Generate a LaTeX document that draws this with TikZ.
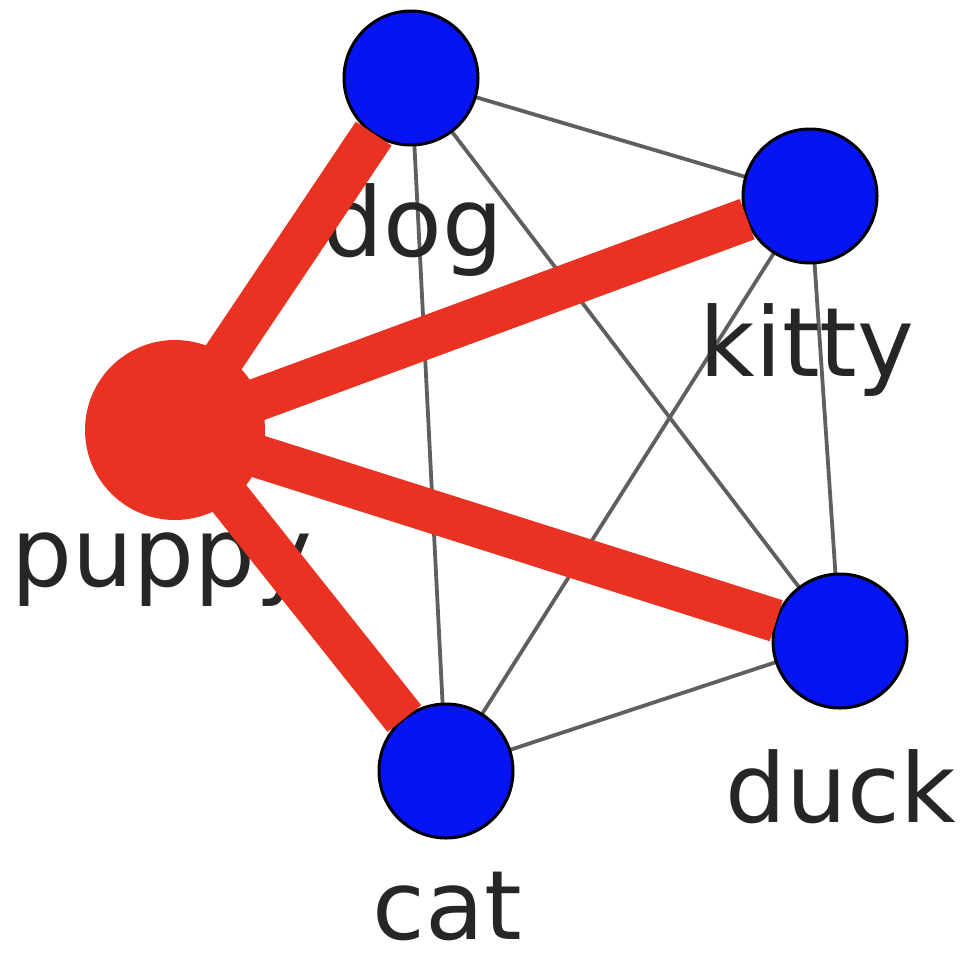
\documentclass[tikz,border=0pt]{standalone}
\usepackage{fontspec}
\setmainfont{DejaVu Sans}
\definecolor{nodeblue}{RGB}{5,20,240}
\definecolor{hubred}{RGB}{234,50,34}
\definecolor{edgegray}{RGB}{95,95,95}
\tikzset{
  x=1pt, y=-1pt,
  animal/.style={circle, fill=nodeblue, draw=black, line width=3pt,
    minimum size=134pt, inner sep=0pt, outer sep=0pt},
  hubnode/.style={circle, fill=hubred, minimum size=180pt, inner sep=0pt, outer sep=0pt},
  thinedge/.style={draw=edgegray, line width=3.8pt},
  heavyedge/.style={draw=hubred, line width=43pt, line cap=butt},
  animallabel/.style={anchor=base, inner sep=0pt, text=black!85,
    font=\fontsize{96}{115}\selectfont}
}
\begin{document}
\begin{tikzpicture}
  \useasboundingbox (0,0) rectangle (965,961);

  % node positions
  \coordinate (pDog)   at (411,78);
  \coordinate (pKitty) at (810,196);
  \coordinate (pDuck)  at (840,641);
  \coordinate (pCat)   at (446,771);
  \coordinate (pPuppy) at (175,430);

  % light edges between the blue animals
  \draw[thinedge] (pDog) -- (pKitty);
  \draw[thinedge] (pDog) -- (pCat);
  \draw[thinedge] (pDog) -- (pDuck);
  \draw[thinedge] (pKitty) -- (pCat);
  \draw[thinedge] (pKitty) -- (pDuck);
  \draw[thinedge] (pCat) -- (pDuck);

  % labels
  \node[animallabel] (lDog)   at (413,256) {dog};
  \node[animallabel] (lKitty) at (807,376) {kitty};
  \node[animallabel] (lPuppy) at (162,586) {puppy};
  \node[animallabel] (lDuck)  at (841,822) {duck};
  \node[animallabel] (lCat)   at (447,939) {cat};

  % blue animals
  \node[animal] (dog)   at (pDog)   {};
  \node[animal] (kitty) at (pKitty) {};
  \node[animal] (duck)  at (pDuck)  {};
  \node[animal] (cat)   at (pCat)   {};

  % heavy edges from the hub
  \draw[heavyedge] (pPuppy) -- (dog);
  \draw[heavyedge] (pPuppy) -- (kitty);
  \draw[heavyedge] (pPuppy) -- (duck);
  \draw[heavyedge] (pPuppy) -- (cat);

  % hub
  \node[hubnode] (puppy) at (pPuppy) {};
\end{tikzpicture}
\end{document}
